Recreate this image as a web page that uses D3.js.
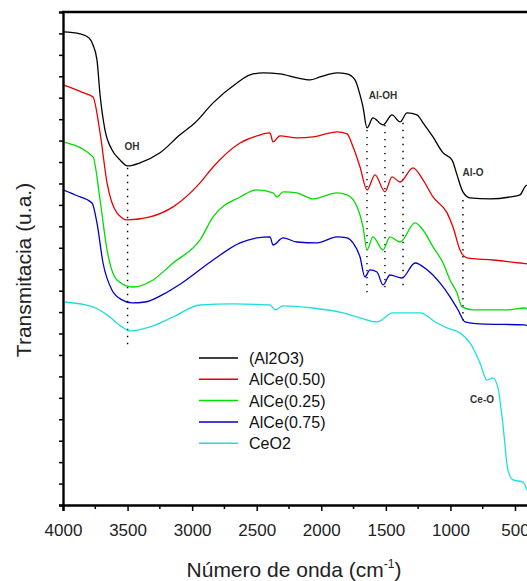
<!DOCTYPE html>
<html>
<head>
<meta charset="utf-8">
<script src="https://cdn.jsdelivr.net/npm/d3@7"></script>
<style>
  body { margin: 0; background: #fff; }
  text { font-family: Arial, "Liberation Sans", sans-serif; }
</style>
</head>
<body>
<script>
// Spectra: [wavenumber (cm-1), transmittance (a.u.)]
var al2o3 = [[4000,22.07],[3868,21.98],[3800,21.80],[3770,21.50],[3737,20.77],[3713,19.13],[3675,17.50],[3621,16.57],[3559,16.10],[3500,15.82],[3404,15.96],[3249,16.43],[3094,17.27],[2978,17.83],[2838,18.76],[2653,19.69],[2552,20.07],[2451,20.16],[2320,20.11],[2188,19.93],[2087,19.83],[2010,19.97],[1878,20.16],[1801,20.11],[1739,19.83],[1700,19.13],[1677,18.57],[1646,17.59],[1600,18.06],[1522,17.73],[1452,18.20],[1390,17.87],[1336,18.29],[1259,18.20],[1212,17.83],[1135,17.17],[1057,16.43],[988,16.10],[949,15.40],[903,14.61],[848,14.33],[693,14.28],[539,14.37],[461,14.47],[423,14.84],[407,14.93]];
var alce050 = [[4000,19.60],[3930,19.45],[3850,19.25],[3768,19.04],[3713,17.36],[3659,15.03],[3582,13.63],[3500,13.30],[3326,13.44],[3148,13.91],[2939,15.03],[2838,15.77],[2629,16.89],[2498,17.22],[2397,17.36],[2374,16.94],[2320,17.22],[2188,17.13],[2064,17.17],[1878,17.41],[1801,17.31],[1754,16.71],[1700,15.77],[1646,14.70],[1584,15.40],[1507,14.61],[1452,15.31],[1390,15.07],[1290,15.73],[1212,15.17],[1135,14.37],[1026,13.63],[980,12.97],[926,11.90],[872,11.53],[670,11.43],[461,11.29],[407,11.25]];
var alce025 = [[4000,16.94],[3768,16.24],[3713,14.23],[3659,11.90],[3582,10.50],[3458,10.17],[3303,10.50],[3148,11.29],[2939,12.37],[2838,13.44],[2629,14.37],[2498,14.70],[2374,14.56],[2343,14.37],[2296,14.61],[2188,14.56],[2064,14.28],[1878,14.56],[1801,14.47],[1723,13.91],[1677,12.97],[1646,11.90],[1600,12.51],[1522,11.90],[1468,12.51],[1390,12.27],[1274,13.16],[1212,12.83],[1135,12.04],[1057,11.29],[1003,10.50],[949,9.89],[910,9.24],[825,9.10],[562,9.10],[423,9.19],[407,9.15]];
var alce075 = [[4000,14.70],[3900,14.45],[3775,14.09],[3737,13.16],[3690,11.29],[3621,10.03],[3543,9.57],[3466,9.43],[3365,9.47],[3233,9.80],[3079,10.36],[2838,11.43],[2629,12.23],[2498,12.46],[2397,12.51],[2374,12.13],[2296,12.46],[2188,12.27],[2033,12.23],[1878,12.51],[1801,12.46],[1754,12.23],[1700,11.57],[1662,10.64],[1623,10.97],[1569,10.87],[1522,10.27],[1468,10.73],[1375,10.59],[1274,11.29],[1181,10.97],[1081,10.36],[1003,9.71],[941,9.10],[887,8.54],[771,8.45],[423,8.40],[407,8.35]];
var ceo2 = [[3985,9.47],[3768,9.24],[3659,8.87],[3543,8.31],[3481,8.12],[3326,8.31],[3148,8.77],[2939,9.33],[2684,9.38],[2397,9.33],[2358,9.10],[2296,9.29],[2064,9.19],[1832,8.96],[1700,8.73],[1569,8.54],[1445,8.96],[1236,8.96],[1104,8.49],[1026,8.26],[926,8.03],[848,7.56],[771,6.63],[717,5.83],[670,5.93],[632,5.46],[593,3.73],[555,1.63],[515,1.17],[438,1.07],[407,0.70]];

var seriesNames = ["(Al2O3)", "AlCe(0.50)", "AlCe(0.25)", "AlCe(0.75)", "CeO2"];
var seriesData = [al2o3, alce050, alce025, alce075, ceo2];
var seriesColors = ["#000000", "#e80000", "#00dd00", "#0000cc", "#22dddd"];

var xTicks = [4000, 3500, 3000, 2500, 2000, 1500, 1000, 500];
// band markers: [wavenumber, top value, bottom value]
var bandLines = [[3500,15.73,7.47],[1646,17.50,9.80],[1507,17.73,10.03],[1367,17.83,10.03],[903,14.23,8.40]];
// band labels: [text, wavenumber, value]
var bandLabels = [["OH",3466,16.75],["Al-OH",1522,19.13],["Al-O",825,15.54],["Ce-O",755,4.95]];

var width = 527, height = 581;
var margin = {left: 63, top: 12, bottom: 76};

var svg = d3.select("body").append("svg")
    .attr("width", width)
    .attr("height", height)
    .style("background", "#fff");

var x = d3.scaleLinear().domain([4000, 400]).range([margin.left, margin.left + 3600 * 0.12914]);
var y = d3.scaleLinear().domain([0, 23]).range([height - margin.bottom, margin.top]);

// dotted band markers
svg.selectAll(".band")
    .data(bandLines)
    .enter().append("line")
    .attr("class", "band")
    .attr("x1", function(d){ return x(d[0]); })
    .attr("x2", function(d){ return x(d[0]); })
    .attr("y1", function(d){ return y(d[1]); })
    .attr("y2", function(d){ return y(d[2]); })
    .style("stroke", "#000")
    .style("stroke-width", 1.4)
    .style("stroke-dasharray", "1.4,5.6");

// spectra, drawn bottom first
var line = d3.line()
    .x(function(d){ return x(d[0]); })
    .y(function(d){ return y(d[1]); })
    .curve(d3.curveMonotoneX);

svg.selectAll(".spectrum")
    .data(d3.range(seriesData.length).reverse())
    .enter().append("path")
    .attr("class", "spectrum")
    .attr("d", function(i){ return line(seriesData[i]); })
    .style("fill", "none")
    .style("stroke", function(i){ return seriesColors[i]; })
    .style("stroke-width", 1.3);

svg.selectAll(".bandLabel")
    .data(bandLabels)
    .enter().append("text")
    .attr("class", "bandLabel")
    .attr("x", function(d){ return x(d[1]); })
    .attr("y", function(d){ return y(d[2]) + 4; })
    .attr("text-anchor", "middle")
    .style("font-size", "10px")
    .style("font-weight", "bold")
    .style("fill", "#333")
    .text(function(d){ return d[0]; });

// axes
var xAxis = d3.axisBottom(x).tickValues(xTicks).tickFormat(d3.format("d")).tickSize(6).tickPadding(13);
var gx = svg.append("g")
    .attr("transform", "translate(0," + y(0) + ")")
    .call(xAxis);
gx.selectAll(".minor")
    .data(d3.range(3750, 400, -500))
    .enter().append("line")
    .attr("class", "minor")
    .attr("x1", function(d){ return x(d); })
    .attr("x2", function(d){ return x(d); })
    .attr("y2", 4)
    .style("stroke", "#000")
    .style("stroke-width", 1.5);

var yAxis = d3.axisLeft(y).tickValues(d3.range(0, 23)).tickFormat("").tickSize(4);
var gy = svg.append("g")
    .attr("transform", "translate(" + margin.left + ",0)")
    .call(yAxis);

svg.selectAll(".domain").style("stroke-width", 2.4);
svg.selectAll(".tick line").style("stroke-width", 1.5);
gx.selectAll("text").style("font-size", "17px").style("fill", "#222");

svg.append("line")
    .attr("x1", margin.left - 1).attr("x2", width)
    .attr("y1", y(23)).attr("y2", y(23))
    .style("stroke", "#000").style("stroke-width", 2.4);

// axis titles
svg.append("text")
    .attr("transform", "translate(31,270) rotate(-90)")
    .attr("text-anchor", "middle")
    .style("font-size", "21px")
    .style("fill", "#222")
    .text("Transmitacia (u.a.)");

var xt = svg.append("text")
    .attr("x", 294)
    .attr("y", 577)
    .attr("text-anchor", "middle")
    .style("font-size", "21px")
    .style("fill", "#222");
xt.append("tspan").text("Número de onda (cm");
xt.append("tspan").attr("dy", -9).style("font-size", "12px").text("-1");
xt.append("tspan").attr("dy", 9).text(")");

// legend
var legend = svg.selectAll(".legend")
    .data(seriesNames)
    .enter().append("g")
    .attr("class", "legend")
    .attr("transform", function(d, i){ return "translate(199," + (358 + i * 21.3) + ")"; });
legend.append("line")
    .attr("x2", 39)
    .style("stroke", function(d, i){ return seriesColors[i]; })
    .style("stroke-width", 1.5);
legend.append("text")
    .attr("x", 50)
    .attr("y", 6)
    .style("font-size", "16px")
    .style("fill", "#111")
    .text(function(d){ return d; });
</script>
</body>
</html>
